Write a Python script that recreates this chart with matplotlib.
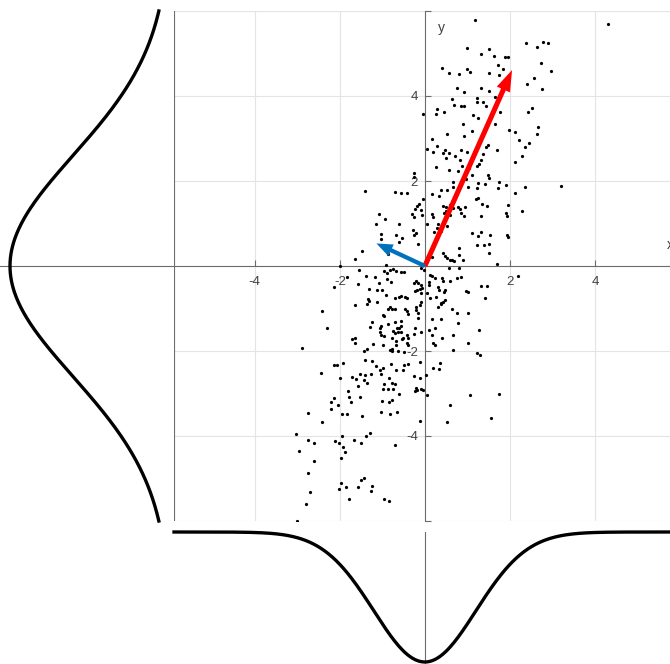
import matplotlib
matplotlib.use('Agg')
import matplotlib.pyplot as plt
import numpy as np

# scatter samples
pts_x = [
    -1.40, -0.71, -0.55, -1.08, -0.94, -1.14, -0.61, -1.03, -1.04, -0.68,
    -0.60, -0.53, -1.48, -1.64, -2.00, -0.92, -1.56, -1.84, -1.38, -0.96,
    -0.90, -0.82, -0.75, -0.68, -1.18, -1.08, -0.88, -0.80, -2.14, -1.58,
    -1.32, -1.13, -1.02, -0.92, -0.71, -0.61, -0.55, -1.33, -0.86, -2.42,
    -2.30, -2.90, -1.64, -1.35, -1.31, -1.12, -0.82, -0.78, -0.86, -0.71,
    -0.98, -0.96, -1.25, -1.29, -1.04, -1.06, -0.86, -0.71, -0.55, -0.56,
    -0.66, -0.61, -0.76, -0.70, -0.63, -0.57, -1.06, -1.04, -0.96, -1.72,
    -1.64, -1.65, -1.23, -0.98, -0.78, -0.68, -0.53, -0.51, -0.69, -0.82,
    -0.78, -0.77, -0.63, -0.49, -1.35, -1.43, -1.40, -1.25, -1.16, -1.06,
    -0.99, -0.80, -0.68, -0.52, -0.50, -2.14, -2.06, -1.92, -2.45, -2.00,
    -1.72, -1.62, -1.52, -1.40, -1.44, -1.26, -1.03, -1.36, -1.57, -0.85,
    -0.78, -0.96, -0.71, -1.80, -0.98, -0.86, -0.75, -0.61, -1.79, -1.52,
    -2.13, -2.20, -1.73, -2.05, -1.00, -0.84, -0.78, -2.21, -2.74, -1.82,
    -1.95, -1.04, -0.82, -0.66, -1.49, -2.43, -3.04, -2.76, -2.60, -1.95,
    -2.12, -2.01, -1.93, -1.88, -1.67, -1.51, -1.38, -1.28, -0.71, -2.97,
    -1.97, -2.61, -2.75, -1.98, -2.02, -1.85, -1.58, -1.50, -1.44, -1.24,
    -1.26, -2.69, -1.78, -0.96, -0.84, -2.80, -3.01, 1.18, 1.00, 1.33,
    1.51, 1.63, 1.88, 1.95, 1.71, 1.83, 1.74, 0.41, 0.57, 0.81,
    1.00, 1.07, 1.51, 0.75, 0.92, 1.33, 1.50, 0.63, 0.69, 0.86,
    0.92, 1.23, 1.23, 1.36, 1.66, -0.04, 0.26, 0.29, 0.45, 1.14,
    1.24, 0.90, 1.44, 1.76, 1.66, 0.51, 0.17, 0.92, 1.12, 1.98,
    0.04, 0.18, 0.29, 0.47, 0.43, 0.57, 0.49, 0.71, 0.85, 1.00,
    1.43, 1.48, 1.70, 1.36, 1.31, 1.28, 1.23, 0.82, 0.88, 0.26,
    0.57, 0.77, 1.03, 1.10, 1.48, 1.51, 1.74, 1.91, -0.26, -0.25,
    0.67, 0.67, 0.96, 1.02, 1.24, 1.23, 1.41, 1.71, -0.41, 0.39,
    0.51, 0.17, 0.34, 0.71, 1.24, 1.20, 1.35, 1.47, 0.43, 0.49,
    0.60, 0.67, 0.79, 0.82, 0.94, 1.96, -0.18, -0.13, -0.24, -0.10,
    -0.04, 0.45, 0.49, 0.59, 0.85, 0.92, 1.31, 1.91, 1.94, -0.31,
    -0.26, -0.06, 0.17, 0.20, 0.06, 0.32, 0.51, 0.22, 0.29, 0.37,
    -0.29, -0.21, -0.26, 1.12, 1.32, 1.26, 1.53, 1.92, 1.96, 1.22,
    1.39, 1.51, 1.51, 0.43, 0.47, 0.53, 0.59, 0.63, 0.16, -0.16,
    0.80, 0.80, 0.69, 0.89, 1.69, -0.55, -0.49, -0.10, -0.02, 0.57,
    0.81, 0.12, 0.17, 0.24, 0.41, 0.43, 0.59, 0.76, 0.84, -0.20,
    -0.26, -0.16, 0.10, 0.10, -0.09, 0.30, 0.34, 0.47, 0.46, 0.96,
    1.02, 1.33, 1.45, -0.24, -0.18, -0.12, -0.06, -0.10, 0.04, 0.12,
    0.25, -0.47, -0.42, 0.42, 0.39, 0.37, 0.47, 1.41, -0.08, -0.12,
    -0.20, -0.20, -0.16, -0.47, -0.42, -0.39, 0.31, 0.63, 0.76, 1.02,
    -0.16, 0.16, 0.39, -0.24, 0.24, 0.77, 1.27, 0.10, -0.08, -0.26,
    0.16, 0.67, 0.41, -0.43, -0.39, -0.43, -0.39, 0.20, 0.24, 1.02,
    0.67, 1.22, 1.29, -0.12, -0.39, 0.35, 0.34, 0.18, -0.26, -0.12,
    0.02, -0.21, -0.18, -0.23, -0.09, -0.04, 0.04, 0.60, 1.06, 1.75,
    -0.12, 0.53, 1.55, 4.31, 2.38, 2.64, 2.77, 2.89, 2.72, 2.96,
    2.56, 2.41, 2.76, 2.53, 2.42, 2.13, 2.65, 2.64, 2.21, 2.45,
    2.35, 2.29, 2.11, 2.35, 3.19, 2.13, 2.28, 2.18,
]
pts_y = [
    1.77, 1.73, 1.71, 1.22, 1.10, 1.00, 1.00, 0.75, 0.64, 0.73,
    0.57, 0.67, 0.35, 0.16, 0.01, 0.02, -0.09, -0.25, -0.23, -0.11,
    -0.16, -0.09, -0.08, -0.11, -0.27, -0.39, -0.31, -0.37, -0.49, -0.42,
    -0.55, -0.56, -0.57, -0.68, -0.75, -0.72, -0.70, -0.78, 0.28, -1.05,
    -1.46, -1.93, -0.92, -0.89, -0.82, -0.84, -0.96, -1.00, -1.02, -1.01,
    -1.15, -1.17, -1.31, -1.43, -1.41, -1.46, -1.37, -1.32, -1.29, -1.40,
    -1.45, -1.45, -1.53, -1.58, -1.55, -1.56, -1.56, -1.62, -1.65, -1.72,
    -1.69, -1.80, -1.84, -1.85, -1.69, -1.76, -1.72, -1.69, -1.87, -1.98,
    -1.95, -2.00, -2.01, -2.02, -1.96, -2.01, -2.20, -2.24, -2.35, -2.44,
    -2.41, -2.31, -2.44, -2.44, -2.32, -2.32, -2.32, -2.29, -2.51, -2.64,
    -2.60, -2.66, -2.54, -2.56, -2.68, -2.53, -2.53, -2.75, -2.82, -2.64,
    -2.75, -2.78, -2.78, -2.94, -2.90, -2.90, -2.89, -3.02, -3.08, -3.08,
    -3.10, -3.19, -3.19, -3.26, -3.18, -3.20, -3.15, -3.36, -3.45, -3.49,
    -3.49, -3.44, -3.48, -3.44, -3.53, -3.68, -3.96, -4.09, -4.16, -4.00,
    -4.12, -4.17, -4.26, -4.37, -4.10, -4.17, -4.01, -3.93, -4.21, -4.36,
    -4.52, -4.59, -4.88, -5.11, -5.25, -5.20, -5.20, -5.04, -4.98, -5.17,
    -5.30, -5.32, -5.48, -5.48, -5.54, -5.59, -5.99, 5.79, 5.13, 5.00,
    5.11, 4.93, 4.91, 4.91, 4.72, 4.64, 4.50, 4.66, 4.53, 4.52,
    4.64, 4.56, 4.53, 4.20, 4.09, 4.19, 4.12, 3.92, 3.78, 3.76,
    3.76, 3.96, 3.87, 3.87, 3.97, 3.57, 3.57, 3.70, 3.62, 3.55,
    3.48, 3.34, 3.77, 3.63, 3.35, 3.10, 2.98, 3.07, 3.18, 3.20,
    2.75, 2.69, 2.83, 2.73, 2.65, 2.67, 2.55, 2.58, 2.73, 2.68,
    2.81, 2.85, 2.72, 2.63, 2.49, 2.39, 2.35, 2.49, 2.35, 2.32,
    2.27, 2.24, 2.30, 2.14, 2.14, 2.06, 1.98, 1.91, 2.20, 2.09,
    1.98, 1.87, 2.05, 1.85, 1.95, 1.83, 1.92, 1.83, 1.71, 1.78,
    1.79, 1.69, 1.64, 1.63, 1.59, 1.57, 1.46, 1.42, 1.42, 1.39,
    1.44, 1.36, 1.39, 1.33, 1.40, 1.44, 1.42, 1.46, 1.34, 1.32,
    1.58, 1.24, 1.29, 1.20, 1.25, 1.18, 1.18, 1.24, 1.18, 1.22,
    1.16, 1.19, 1.22, 1.16, 0.98, 1.00, 0.95, 0.81, 0.89, 0.83,
    0.85, 0.77, 0.73, 0.77, 0.81, 0.71, 0.73, 0.73, 0.69, 0.49,
    0.49, 0.52, 0.31, 0.30, 0.24, 0.18, 0.14, 0.14, 0.22, 0.52,
    0.42, 0.26, 0.12, 0.15, 0.04, -0.15, -0.13, -0.05, -0.09, -0.05,
    -0.05, -0.21, -0.24, -0.28, -0.28, -0.35, -0.35, -0.29, -0.25, -0.35,
    -0.41, -0.41, -0.38, -0.45, -0.45, -0.49, -0.56, -0.56, -0.62, -0.58,
    -0.60, -0.47, -0.47, -0.58, -0.56, -0.55, -0.52, -0.64, -0.64, -0.76,
    -0.74, -0.72, -0.76, -0.84, -0.88, -0.90, -0.80, -0.75, -0.84, -0.92,
    -0.96, -1.04, -1.11, -1.00, -1.05, -1.14, -0.97, -1.01, -1.11, -1.11,
    -1.23, -1.25, -1.25, -1.45, -1.45, -1.35, -1.51, -1.51, -1.56, -1.60,
    -1.62, -1.62, -1.69, -1.62, -1.70, -1.82, -1.86, -1.80, -1.86, -1.80,
    -1.98, -2.05, -2.09, -2.25, -2.31, -2.29, -2.43, -2.41, -2.58, -2.63,
    -2.56, -2.88, -2.92, -2.94, -2.89, -2.92, -3.04, -3.27, -3.04, -3.01,
    -3.64, -3.68, -3.57, 5.69, 5.25, 5.16, 5.28, 5.25, 4.77, 4.58,
    4.42, 4.29, 4.16, 3.72, 3.62, 3.15, 3.26, 3.11, 2.96, 2.89,
    2.79, 2.59, 2.45, 1.87, 1.88, 1.72, 1.29, -0.24,
]

# principal directions drawn as arrows
red_vec = (2.05, 4.61)
blue_vec = (-1.14, 0.53)

# marginal gaussians
sigma_x = 1.2
sigma_y = 2.6

ticks = [-4, -2, 2, 4]
tick_labels = ['-4', '-2', '2', '4']

plt.rcParams['font.family'] = ['Liberation Sans', 'DejaVu Sans']
axis_gray = '#6b6b6b'

W, H = 670, 664
fig = plt.figure(figsize=(W / 100, H / 100), dpi=100)

x_lo, x_hi = -5.9, 6.0
# main axes: px 174..680 horizontally, 11..521 vertically
ax = fig.add_axes([174 / W, (H - 521) / H, (680 - 174) / W, 510 / H])
ax.set_xlim(x_lo, x_hi)
ax.set_ylim(-6, 6)
for s in ['top', 'right']:
    ax.spines[s].set_visible(False)
for s in ['left', 'bottom']:
    ax.spines[s].set_position(('data', 0))
    ax.spines[s].set_color(axis_gray)
    ax.spines[s].set_linewidth(0.8)
ax.set_xticks(ticks, labels=tick_labels)
ax.set_yticks([-6] + ticks + [6], labels=[''] + tick_labels + [''])
ax.tick_params(direction='in', length=4, width=0.8, color=axis_gray,
               labelcolor='#404040', labelsize=9.5)
ax.tick_params(axis='x', pad=7)
ax.tick_params(axis='y', pad=5)
ax.grid(True, color='#e4e4e4', linewidth=0.8)
ax.set_axisbelow(True)
ax.axvline(x_lo, color=axis_gray, lw=0.8)

ax.plot(pts_x, pts_y, 'k.', markersize=2.6, zorder=3)

ax.arrow(0, 0, red_vec[0], red_vec[1], width=0.12, head_width=0.34,
         head_length=0.5, length_includes_head=True, color='#ff0000',
         lw=0, zorder=4)
ax.arrow(0, 0, blue_vec[0], blue_vec[1], width=0.1, head_width=0.3,
         head_length=0.38, length_includes_head=True, color='#0072bd',
         lw=0, zorder=4)

ax.text(5.69, 0.49, 'x', fontsize=10, color='#404040', va='center', ha='left')
ax.text(0.3, 5.6, 'y', fontsize=10, color='#404040', va='center', ha='left')

# left marginal
ax_l = fig.add_axes([0, (H - 521) / H, 174 / W, 510 / H])
ax_l.set_xlim(-1.0625, 0.025)
ax_l.set_ylim(-6, 6)
ax_l.axis('off')
yy = np.linspace(-6, 6, 400)
ax_l.axhline(0, color=axis_gray, lw=0.8)
ax_l.plot(-np.exp(-yy ** 2 / (2 * sigma_y ** 2)), yy, color='k', lw=2.4,
          clip_on=False)

# bottom marginal
ax_b = fig.add_axes([174 / W, 0, (680 - 174) / W, 132 / H])
ax_b.set_xlim(x_lo, x_hi)
ax_b.set_ylim(-1.0154, 0)
ax_b.axis('off')
xx = np.linspace(x_lo, x_hi, 400)
ax_b.axvline(0, color=axis_gray, lw=0.8)
ax_b.plot(xx, -np.exp(-xx ** 2 / (2 * sigma_x ** 2)), color='k', lw=2.4,
          clip_on=False)

fig.savefig('out.png', dpi=100)
